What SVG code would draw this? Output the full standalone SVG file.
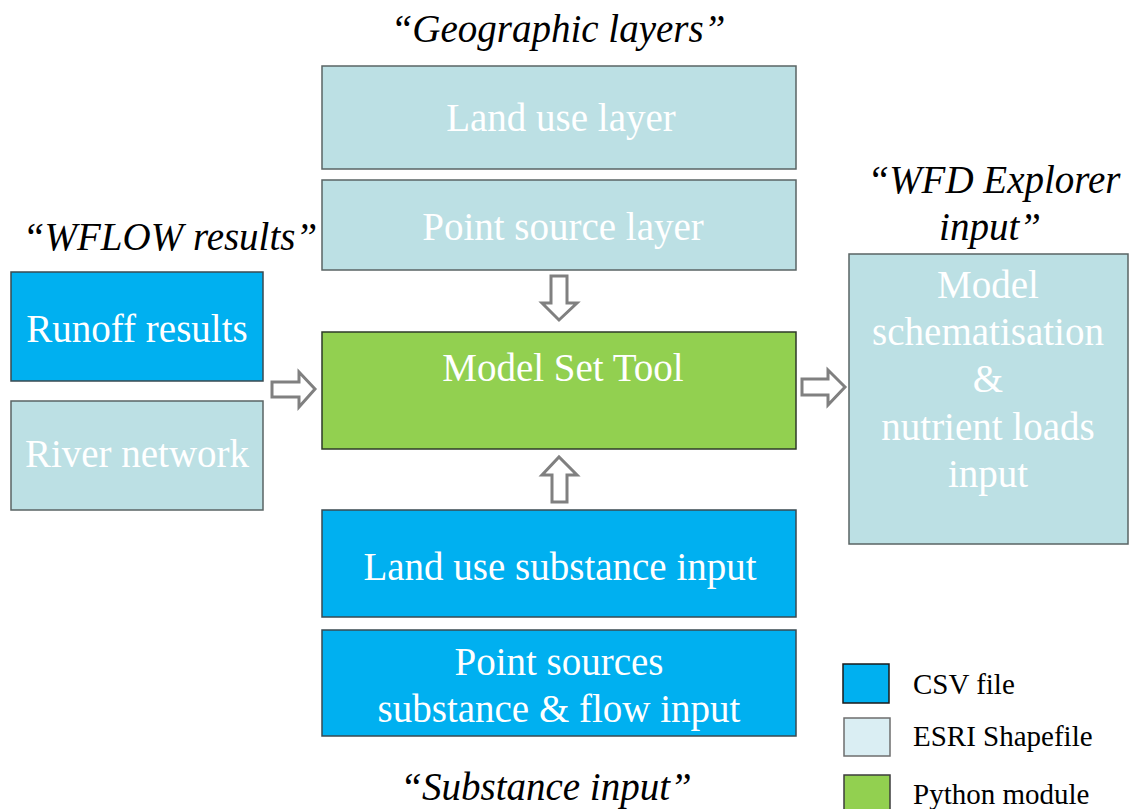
<svg xmlns="http://www.w3.org/2000/svg" width="1135" height="809" viewBox="0 0 1135 809">
  <style>
    .shp { fill: #BCE0E4; stroke: #5A6464; stroke-width: 1.5; }
    .csv { fill: #00B0F0; stroke: #3A4A50; stroke-width: 1.5; }
    .py { fill: #92D050; stroke: #2E3A28; stroke-width: 1.5; }
    .lbl { font-family: "Liberation Serif", "Times New Roman", serif; font-size: 39px; fill: #FFFFFF; text-anchor: middle; }
    .ttl { font-family: "Liberation Serif", "Times New Roman", serif; font-size: 39px; font-style: italic; fill: #000000; text-anchor: middle; }
    .leg { font-family: "Liberation Serif", "Times New Roman", serif; font-size: 29px; fill: #000000; }
    .arr { fill: #FFFFFF; stroke: #808080; stroke-width: 3; stroke-linejoin: miter; }
  </style>

  <rect width="1135" height="809" fill="#FFFFFF"/>

  <!-- Section titles -->
  <text class="ttl" x="558" y="42">“Geographic layers”</text>
  <text class="ttl" x="170" y="250">“WFLOW results”</text>
  <text class="ttl" x="994" y="193">“WFD Explorer</text>
  <text class="ttl" x="990" y="240">input”</text>
  <text class="ttl" x="546" y="800">“Substance input”</text>

  <!-- Nodes -->
  <g id="land-use-layer">
    <rect class="shp" x="322" y="66" width="474" height="103"/>
    <text class="lbl" x="561" y="131">Land use layer</text>
  </g>
  <g id="point-source-layer">
    <rect class="shp" x="322" y="180" width="474" height="90"/>
    <text class="lbl" x="563" y="240">Point source layer</text>
  </g>
  <g id="model-set-tool">
    <rect class="py" x="322" y="332" width="474" height="117"/>
    <text class="lbl" x="563" y="381">Model Set Tool</text>
  </g>
  <g id="land-use-substance-input">
    <rect class="csv" x="322" y="510" width="474" height="107"/>
    <text class="lbl" x="560" y="580">Land use substance input</text>
  </g>
  <g id="point-sources-input">
    <rect class="csv" x="322" y="630" width="474" height="106"/>
    <text class="lbl" x="559" y="675">Point sources</text>
    <text class="lbl" x="559" y="722">substance &amp; flow input</text>
  </g>
  <g id="runoff-results">
    <rect class="csv" x="11" y="272" width="252" height="109"/>
    <text class="lbl" x="137" y="342">Runoff results</text>
  </g>
  <g id="river-network">
    <rect class="shp" x="11" y="401" width="252" height="109"/>
    <text class="lbl" x="137" y="467">River network</text>
  </g>
  <g id="wfd-explorer-input">
    <rect class="shp" x="849" y="254" width="279" height="290"/>
    <text class="lbl" x="988" y="298">Model</text>
    <text class="lbl" x="988" y="345">schematisation</text>
    <text class="lbl" x="988" y="392">&amp;</text>
    <text class="lbl" x="988" y="440">nutrient loads</text>
    <text class="lbl" x="988" y="487">input</text>
  </g>

  <!-- Connectors: outlined block arrows -->
  <g id="connectors">
    <!-- geographic layers -> tool -->
    <polygon class="arr" points="551,276 567,276 567,303 577,303 559,320 542,303 551,303"/>
    <!-- substance input -> tool -->
    <polygon class="arr" points="552,502 567,502 567,475 577,475 559,457 542,475 552,475"/>
    <!-- WFLOW results -> tool -->
    <polygon class="arr" points="272,382 299,382 299,372 315,389 299,407 299,397 272,397"/>
    <!-- tool -> WFD Explorer input -->
    <polygon class="arr" points="802,379 828,379 828,370 845,387 828,405 828,395 802,395"/>
  </g>

  <!-- Legend -->
  <g id="legend">
    <rect x="843" y="664" width="46" height="39" fill="#00B0F0" stroke="#1A1A1A" stroke-width="1.5"/>
    <text class="leg" x="913" y="694">CSV file</text>
    <rect x="844" y="718" width="46" height="38" fill="#DAEEF3" stroke="#6E6E6E" stroke-width="1.5"/>
    <text class="leg" x="913" y="746">ESRI Shapefile</text>
    <rect x="844" y="775" width="46" height="40" fill="#92D050" stroke="#3C3C3C" stroke-width="1.5"/>
    <text class="leg" x="913" y="804">Python module</text>
  </g>
</svg>
